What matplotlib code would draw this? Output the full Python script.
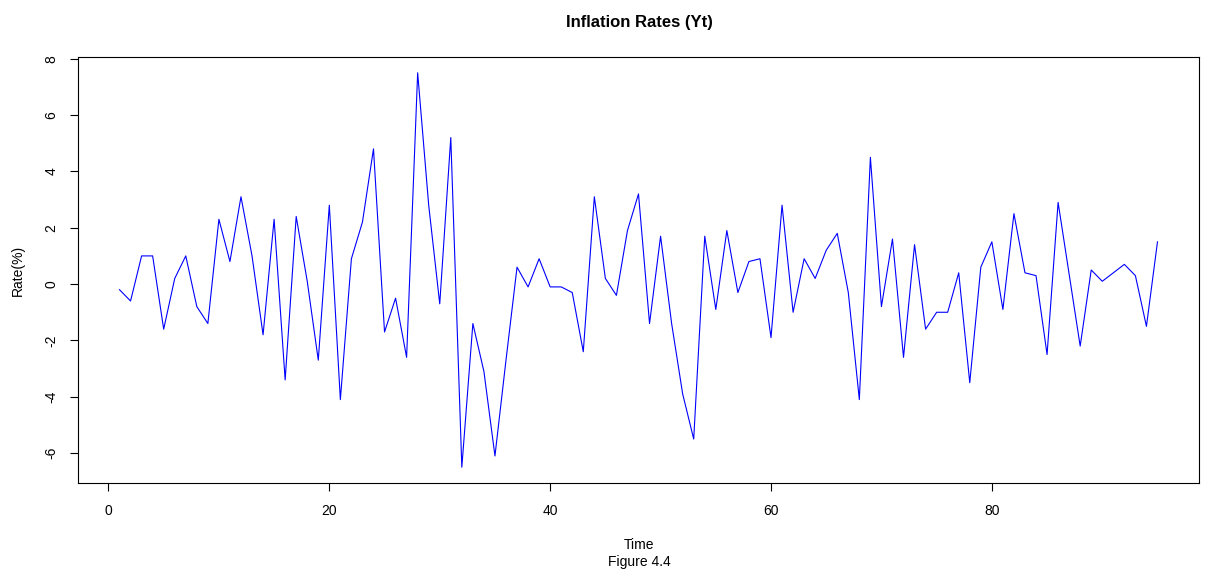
import numpy as np
import matplotlib
matplotlib.use("Agg")
import matplotlib.pyplot as plt

plt.rcParams['font.family'] = ['Liberation Sans', 'DejaVu Sans']

# inflation rates, t = 1..95
rates = [-0.2, -0.6, 1.0, 1.0, -1.6, 0.2, 1.0, -0.8, -1.4, 2.3,
         0.8, 3.1, 1.0, -1.8, 2.3, -3.4, 2.4, 0.1, -2.7, 2.8,
         -4.1, 0.9, 2.2, 4.8, -1.7, -0.5, -2.6, 7.5, 2.8, -0.7,
         5.2, -6.5, -1.4, -3.1, -6.1, -2.7, 0.6, -0.1, 0.9, -0.1,
         -0.1, -0.3, -2.4, 3.1, 0.2, -0.4, 1.9, 3.2, -1.4, 1.7,
         -1.4, -3.9, -5.5, 1.7, -0.9, 1.9, -0.3, 0.8, 0.9, -1.9,
         2.8, -1.0, 0.9, 0.2, 1.2, 1.8, -0.3, -4.1, 4.5, -0.8,
         1.6, -2.6, 1.4, -1.6, -1.0, -1.0, 0.4, -3.5, 0.6, 1.5,
         -0.9, 2.5, 0.4, 0.3, -2.5, 2.9, 0.35, -2.2, 0.5, 0.1,
         0.4, 0.7, 0.3, -1.5, 1.5]
time = np.arange(1, len(rates) + 1)

xticks = [0, 20, 40, 60, 80]
yticks = [-6, -4, -2, 0, 2, 4, 6, 8]

fig = plt.figure(figsize=(12.11, 5.75), dpi=100)
ax = fig.add_axes([78 / 1211, 1 - 483 / 575, 1121 / 1211, 426 / 575])

ax.plot(time, rates, color='blue', lw=0.8)

# R style 4% padding
xr = time.max() - time.min()
yr = max(rates) - min(rates)
ax.set_xlim(time.min() - 0.04 * xr, time.max() + 0.04 * xr)
ax.set_ylim(min(rates) - 0.04 * yr, max(rates) + 0.04 * yr)

ax.set_xticks(xticks)
ax.set_yticks(yticks)
ax.set_yticklabels([str(v) for v in yticks], rotation=90, va='center')
ax.tick_params(axis='x', length=6, width=0.8, pad=9, labelsize=10)
ax.tick_params(axis='y', length=6, width=0.8, pad=8, labelsize=10)
for s in ax.spines.values():
    s.set_linewidth(0.8)

fig.text(639 / 1211, 1 - 22 / 575, "Inflation Rates (Yt)", ha='center', va='center',
         fontsize=12, fontweight='bold')
fig.text(639 / 1211, 1 - 545 / 575, "Time", ha='center', va='center', fontsize=10)
fig.text(639 / 1211, 1 - 562 / 575, "Figure 4.4", ha='center', va='center', fontsize=10)
fig.text(18 / 1211, 1 - 270 / 575, "Rate(%)", rotation=90, ha='center', va='center', fontsize=10)

fig.savefig("out.png", dpi=100)
